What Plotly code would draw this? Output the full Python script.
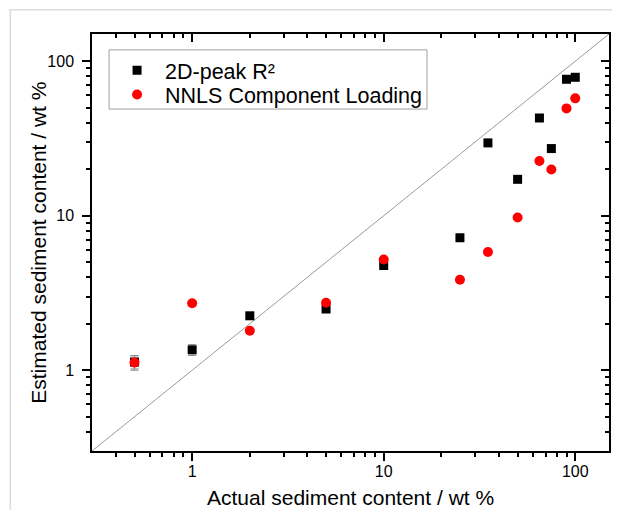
import math
import plotly.graph_objects as go

# ---- data ----
actual = [0.5, 1, 2, 5, 10, 25, 35, 50, 65, 75, 90, 100]
peak_r2 = [1.13, 1.355, 2.25, 2.49, 4.76, 7.2, 29.6, 17.2, 42.9, 27.2, 76.4, 78.7]
peak_err = [0.11, 0.11, 0, 0, 0, 0, 0, 0, 0, 0, 0, 0]
nnls = [1.12, 2.71, 1.80, 2.73, 5.21, 3.85, 5.82, 9.73, 22.6, 19.9, 49.5, 57.5]
nnls_err = [0.12, 0, 0, 0, 0, 0, 0, 0, 0, 0, 0, 0]
axis_min, axis_max = 0.3, 150
identity = [axis_min, axis_max]
major_ticks = [1, 10, 100]
minor_ticks = [0.4, 0.5, 0.6, 0.7, 0.8, 0.9, 2, 3, 4, 5, 6, 7, 8, 9,
               20, 30, 40, 50, 60, 70, 80, 90]
x_title = "Actual sediment content / wt %"
y_title = "Estimated sediment content / wt %"

rng = [math.log10(axis_min), math.log10(axis_max)]
font = "Arial, Liberation Sans, sans-serif"

fig = go.Figure()
fig.add_trace(go.Scatter(x=identity, y=identity, mode="lines",
                         line=dict(color="#9a9a9a", width=1), showlegend=False,
                         hoverinfo="skip"))
fig.add_trace(go.Scatter(x=actual, y=peak_r2, mode="markers", name="2D-peak R²",
                         marker=dict(symbol="square", size=9, color="black"),
                         error_y=dict(type="data", array=peak_err, color="#8a8a8a",
                                      thickness=1, width=4),
                         legend="legend"))
fig.add_trace(go.Scatter(x=actual, y=nnls, mode="markers", name="NNLS Component Loading",
                         marker=dict(symbol="circle", size=10, color="#ff0000"),
                         error_y=dict(type="data", array=nnls_err, color="#8a8a8a",
                                      thickness=1, width=4),
                         legend="legend2"))
# invisible trace to hold mirrored (inside) tick axes
fig.add_trace(go.Scatter(x=identity, y=identity, xaxis="x2", yaxis="y2", mode="markers",
                         marker=dict(opacity=0), showlegend=False, hoverinfo="skip"))

common = dict(type="log", range=rng, showgrid=False, zeroline=False, automargin=False,
              tickcolor="black", tickwidth=1.5, tickmode="array", tickvals=major_ticks,
              ticktext=[str(v) for v in major_ticks], tickfont=dict(size=16))
minor_out = dict(tickmode="array", tickvals=minor_ticks, ticks="outside",
                 ticklen=4, tickcolor="black", tickwidth=1.5)
minor_in = dict(minor_out, ticks="inside")
legend_style = dict(xanchor="left", yanchor="top", borderwidth=0,
                    bgcolor="rgba(0,0,0,0)", font=dict(size=21.5), itemwidth=46)

fig.update_layout(
    width=604, height=502,
    margin=dict(l=84, r=3, t=26, b=59),
    paper_bgcolor="white", plot_bgcolor="white",
    font=dict(family=font, color="black"),
    xaxis=dict(**common, showline=True, linecolor="black", linewidth=1.5, mirror=True,
               ticks="outside", ticklen=8, minor=minor_out, ticklabelstandoff=-3),
    yaxis=dict(**common, showline=True, linecolor="black", linewidth=1.5, mirror=True,
               ticks="outside", ticklen=8, minor=minor_out, ticklabelstandoff=5),
    xaxis2=dict(**common, overlaying="x", side="top", anchor="y", showline=False,
                ticks="inside", ticklen=8, showticklabels=False, minor=minor_in),
    yaxis2=dict(**common, overlaying="y", side="right", anchor="x", showline=False,
                ticks="inside", ticklen=8, showticklabels=False, minor=minor_in),
    legend=dict(x=0.033, y=0.962, **legend_style),
    legend2=dict(x=0.033, y=0.904, **legend_style),
    showlegend=True,
    annotations=[
        dict(text=x_title, xref="paper", yref="paper", x=0.5, y=-0.111,
             xanchor="center", yanchor="middle", showarrow=False, font=dict(size=21)),
        dict(text=y_title, xref="paper", yref="paper", x=-0.104, y=0.5, textangle=-90,
             xanchor="center", yanchor="middle", showarrow=False, font=dict(size=21)),
    ],
)
# legend frame
fig.add_shape(type="rect", xref="paper", yref="paper", x0=0.033, x1=0.648, y0=0.82, y1=0.962,
              line=dict(color="#a0a0a0", width=1), fillcolor="white", layer="above")
# light outer frame of the original figure
fig.add_shape(type="line", xref="paper", yref="paper", x0=-0.16, x1=1.05, y0=1.058, y1=1.058,
              line=dict(color="#dcdcdc", width=1.5))
fig.add_shape(type="line", xref="paper", yref="paper", x0=-0.158, x1=-0.158, y0=-0.2, y1=1.058,
              line=dict(color="#dcdcdc", width=1.5))

fig.write_html("out.html")
